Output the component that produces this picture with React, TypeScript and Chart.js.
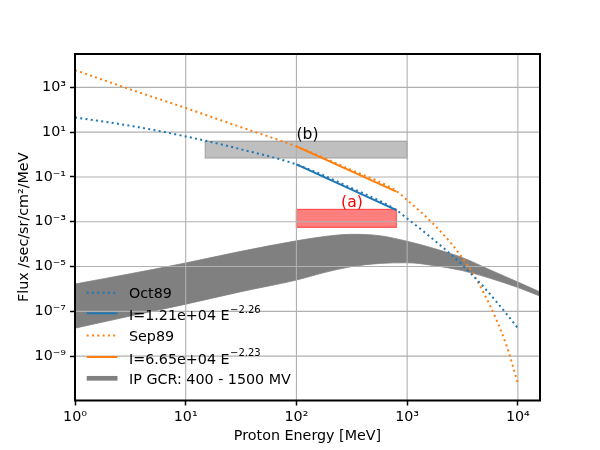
import React, { useEffect, useRef } from 'react';
import { Chart, registerables } from 'chart.js';

Chart.register(...registerables);

// ---------- data ----------
const energyMeV = [1, 3.16, 10, 31.6, 100, 316, 794, 1000, 1259, 1585, 1995, 2512, 3162, 3981, 5012, 6310, 7943, 10000];
const oct89Flux = [45.7, 19.3, 6.46, 1.72, 0.363, 0.0316, 3.39e-3, 1.41e-3, 5.75e-4, 2.29e-4, 8.9e-5, 3.31e-5, 1.15e-5, 3.72e-6, 1.1e-6, 2.95e-7, 7.4e-8, 1.78e-8];
const sep89Flux = [5900, 813, 120, 16.6, 2.29, 0.2, 0.024, 9.3e-3, 3.47e-3, 1.2e-3, 3.8e-4, 1.05e-4, 2.4e-5, 4.37e-6, 5.5e-7, 5.0e-8, 2.75e-9, 6.3e-11];

const fitEnergy = [100, 800];
const oct89Fit = [0.365, 3.32e-3];
const sep89Fit = [2.31, 0.0223];

const gcrEnergy = [1, 3.16, 10, 31.6, 100, 178, 316, 562, 1000, 1778, 3162, 5623, 10000, 15849];
const gcrHigh = [1.66e-6, 4.79e-6, 1.45e-5, 4.79e-5, 1.41e-4, 2.19e-4, 2.75e-4, 2.4e-4, 1.35e-4, 6.3e-5, 2.5e-5, 7.1e-6, 2.04e-6, 7.4e-7];
const gcrLow = [1.78e-8, 6.2e-8, 2.1e-7, 7.6e-7, 2.5e-6, 5.4e-6, 1.0e-5, 1.38e-5, 1.48e-5, 1.1e-5, 6.6e-6, 3.0e-6, 1.17e-6, 4.8e-7];

const boxBEnergy = [15, 1000];
const boxBFlux = [0.7, 4];
const boxAEnergy = [100, 800];
const boxAFlux = [5.6e-4, 3.6e-3];

const noteLabels = ['(b)', '(a)'];
const noteEnergy = [100, 253];
const noteFlux = [5.1, 4.4e-3];

const xTicks = [1, 10, 100, 1000, 10000];
const yTicks = [1e-9, 1e-7, 1e-5, 1e-3, 1e-1, 10, 1000];
const xRange = [1, 15849];
const yRange = [1.05e-11, 30900];

const legendLabels = ['Oct89', 'I=1.21e+04 E', 'Sep89', 'I=6.65e+04 E', 'IP GCR: 400 - 1500 MV'];
const legendSups = ['', '\u22122.26', '', '\u22122.23', ''];

// ---------- styles ----------
const FONT = '"DejaVu Sans", sans-serif';
const BLUE = '#1f77b4';
const ORANGE = '#ff7f0e';
const GRAY = '#808080';
const GRID = '#b0b0b0';
const legendColors = [BLUE, BLUE, ORANGE, ORANGE, GRAY];
const legendWidths = [2, 2, 2, 2, 4.7];
const legendDashes = [[2, 3.3], [], [2, 3.3], [], []];
const legendRowY = [292.7, 313.3, 335.6, 357.0, 378.3];

const SUP: Record<string, string> = { '0': '\u2070', '1': '\u00b9', '2': '\u00b2', '3': '\u00b3', '4': '\u2074', '5': '\u2075', '6': '\u2076', '7': '\u2077', '8': '\u2078', '9': '\u2079', '-': '\u207b' };
function powLabel(v: number) {
  const e = Math.round(Math.log10(v));
  return '10' + String(e).split('').map((c) => SUP[c]).join('');
}

const pts = (xs: number[], ys: number[]) => xs.map((x, i) => ({ x, y: ys[i] }));
const boxPts = (xs: number[], ys: number[]) => [
  { x: xs[0], y: ys[1] }, { x: xs[1], y: ys[1] }, { x: xs[1], y: ys[0] }, { x: xs[0], y: ys[0] }, { x: xs[0], y: ys[1] },
];

function drawGrid(chart: any) {
  const { ctx, chartArea: a, scales } = chart;
  ctx.save();
  ctx.strokeStyle = GRID;
  ctx.lineWidth = 1.1;
  for (const v of xTicks) {
    const px = scales.x.getPixelForValue(v);
    ctx.beginPath(); ctx.moveTo(px, a.top); ctx.lineTo(px, a.bottom); ctx.stroke();
  }
  for (const v of yTicks) {
    const py = scales.y.getPixelForValue(v);
    ctx.beginPath(); ctx.moveTo(a.left, py); ctx.lineTo(a.right, py); ctx.stroke();
  }
  ctx.restore();
}

const mplPlugin = {
  id: 'mplLook',
  beforeDraw(chart: any) {
    chart.$gridDone = false;
    const { ctx } = chart;
    ctx.save();
    ctx.fillStyle = '#fff';
    ctx.fillRect(0, 0, chart.width, chart.height);
    ctx.restore();
  },
  beforeDatasetDraw(chart: any, args: any) {
    if (chart.$gridDone) return;
    const ds = chart.data.datasets[args.index];
    if ((ds.order || 0) !== 0) return;
    drawGrid(chart);
    chart.$gridDone = true;
  },
  afterDatasetsDraw(chart: any) {
    if (!chart.$gridDone) { drawGrid(chart); chart.$gridDone = true; }
    const { ctx, scales } = chart;
    ctx.save();
    ctx.font = `15.6px ${FONT}`;
    ctx.textAlign = 'left';
    ctx.textBaseline = 'alphabetic';
    noteLabels.forEach((t, i) => {
      ctx.fillStyle = i === 0 ? '#000' : '#ff0000';
      ctx.fillText(t, scales.x.getPixelForValue(noteEnergy[i]), scales.y.getPixelForValue(noteFlux[i]));
    });
    ctx.restore();
  },
  afterDraw(chart: any) {
    const { ctx, chartArea: a } = chart;
    ctx.save();
    ctx.strokeStyle = '#000';
    ctx.lineWidth = 2;
    ctx.strokeRect(a.left, a.top, a.right - a.left, a.bottom - a.top);
    // legend
    const hx0 = a.left + 11.7;
    const hx1 = a.left + 42.5;
    const tx = a.left + 54;
    legendLabels.forEach((label, i) => {
      const y = legendRowY[i];
      ctx.strokeStyle = legendColors[i];
      ctx.lineWidth = legendWidths[i];
      ctx.setLineDash(legendDashes[i]);
      ctx.lineCap = 'butt';
      ctx.beginPath(); ctx.moveTo(hx0, y); ctx.lineTo(hx1, y); ctx.stroke();
      ctx.setLineDash([]);
      ctx.fillStyle = '#000';
      ctx.font = `14.3px ${FONT}`;
      ctx.textAlign = 'left';
      ctx.textBaseline = 'alphabetic';
      const by = y + 5.3 + (legendSups[i] ? 1.5 : 0);
      ctx.fillText(label, tx, by);
      if (legendSups[i]) {
        const w = ctx.measureText(label).width;
        ctx.font = `10px ${FONT}`;
        ctx.fillText(legendSups[i], tx + w + 0.5, by - 7.5);
      }
    });
    ctx.restore();
  },
};

export default function App() {
  const ref = useRef<HTMLCanvasElement>(null);
  useEffect(() => {
    const canvas = ref.current!;
    Chart.defaults.font.family = FONT;
    const lineBase = { pointRadius: 0, fill: false, order: 0, borderWidth: 2 };
    const chart = new Chart(canvas, {
      type: 'line',
      data: {
        datasets: [
          { ...lineBase, label: 'Oct89', data: pts(energyMeV, oct89Flux), borderColor: BLUE, borderDash: [2, 3.3], cubicInterpolationMode: 'monotone' },
          { ...lineBase, label: 'Oct89 fit', data: pts(fitEnergy, oct89Fit), borderColor: BLUE },
          { ...lineBase, label: 'Sep89', data: pts(energyMeV, sep89Flux), borderColor: ORANGE, borderDash: [2, 3.3], cubicInterpolationMode: 'monotone' },
          { ...lineBase, label: 'Sep89 fit', data: pts(fitEnergy, sep89Fit), borderColor: ORANGE },
          { label: 'GCR 400 MV', data: pts(gcrEnergy, gcrHigh), borderColor: GRAY, backgroundColor: GRAY, borderWidth: 0.8, pointRadius: 0, fill: false, order: 1, cubicInterpolationMode: 'monotone' },
          { label: 'GCR 1500 MV', data: pts(gcrEnergy, gcrLow), borderColor: GRAY, backgroundColor: GRAY, borderWidth: 0.8, pointRadius: 0, fill: '-1', order: 1, cubicInterpolationMode: 'monotone' },
          { label: 'box b', data: boxPts(boxBEnergy, boxBFlux), borderColor: 'rgba(128,128,128,0.5)', backgroundColor: 'rgba(128,128,128,0.5)', borderWidth: 1.3, pointRadius: 0, fill: 'shape', order: 1, tension: 0 },
          { label: 'box a', data: boxPts(boxAEnergy, boxAFlux), borderColor: 'rgba(255,0,0,0.5)', backgroundColor: 'rgba(255,0,0,0.5)', borderWidth: 1.3, pointRadius: 0, fill: 'shape', order: 1, tension: 0 },
        ] as any,
      },
      options: {
        responsive: false,
        animation: false,
        events: [],
        layout: { padding: { left: 0, right: 60, top: 54, bottom: 0 } },
        plugins: { legend: { display: false }, tooltip: { enabled: false } },
        scales: {
          x: {
            type: 'logarithmic',
            min: xRange[0],
            max: xRange[1],
            afterBuildTicks: (s: any) => { s.ticks = xTicks.map((value) => ({ value })); },
            afterFit: (s: any) => { s.height = 49.5; },
            ticks: { callback: (v: any) => powLabel(Number(v)), color: '#000', font: { size: 14.3 }, autoSkip: false, maxRotation: 0, padding: 3 },
            grid: { drawOnChartArea: false, color: GRID, tickColor: '#000', tickLength: 5, tickWidth: 1.5 },
            border: { display: false },
            title: { display: true, text: 'Proton Energy [MeV]', color: '#000', font: { size: 14.3 }, padding: { top: 0, bottom: 5.5 } },
          },
          y: {
            type: 'logarithmic',
            min: yRange[0],
            max: yRange[1],
            afterBuildTicks: (s: any) => { s.ticks = yTicks.map((value) => ({ value })); },
            afterFit: (s: any) => { s.width = 75; },
            ticks: { callback: (v: any) => powLabel(Number(v)), color: '#000', font: { size: 14.3 }, autoSkip: false, padding: 4 },
            grid: { drawOnChartArea: false, color: GRID, tickColor: '#000', tickLength: 5, tickWidth: 1.5 },
            border: { display: false },
            title: { display: true, text: 'Flux /sec/sr/cm\u00b2/MeV', color: '#000', font: { size: 14.3 }, padding: { top: 16, bottom: 0 } },
          },
        },
      } as any,
      plugins: [mplPlugin],
    });
    return () => chart.destroy();
  }, []);
  return (
    <div style={{ position: 'absolute', left: 0, top: 0, width: 600, height: 450, background: '#fff' }}>
      <canvas ref={ref} width={600} height={450} style={{ display: 'block', width: 600, height: 450 }} />
    </div>
  );
}
